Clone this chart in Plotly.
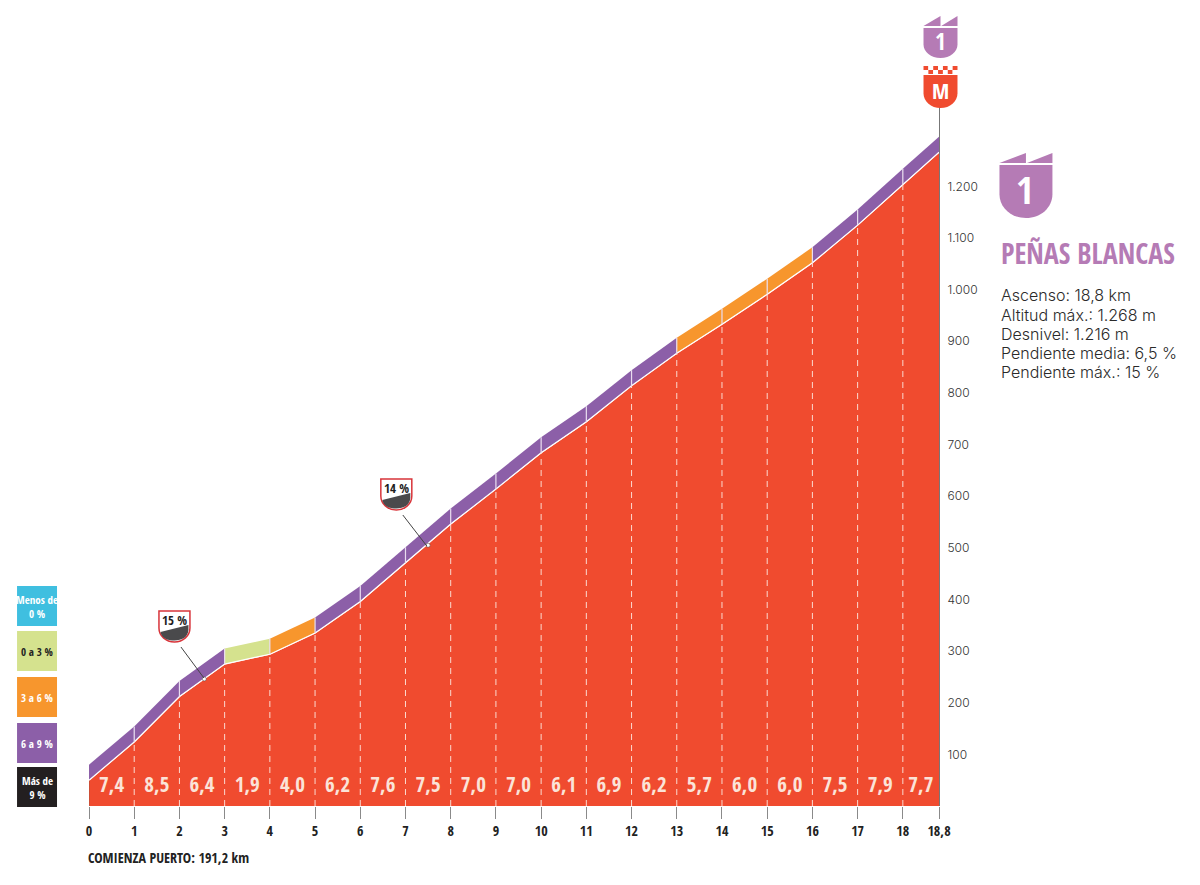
import plotly.graph_objects as go

# perfil del puerto
km = [0, 1, 2, 3, 4, 5, 6, 7, 8, 9, 10, 11, 12, 13, 14, 15, 16, 17, 18, 18.8]
altitud = [50, 124, 212, 275, 294, 335, 396, 471, 546, 614, 684, 744, 814, 877, 933, 991, 1052, 1125, 1204, 1266]
pendiente = [7.4, 8.5, 6.4, 1.9, 4.0, 6.2, 7.6, 7.5, 7.0, 7.0, 6.1, 6.9, 6.2, 5.7, 6.0, 6.0, 7.5, 7.9, 7.7]
banda = 30

km_ticks = [0, 1, 2, 3, 4, 5, 6, 7, 8, 9, 10, 11, 12, 13, 14, 15, 16, 17, 18, 18.8]
km_labels = ["0", "1", "2", "3", "4", "5", "6", "7", "8", "9", "10", "11", "12", "13", "14", "15", "16", "17", "18", "18,8"]
alt_ticks = [100, 200, 300, 400, 500, 600, 700, 800, 900, 1000, 1100, 1200]
alt_labels = ["100", "200", "300", "400", "500", "600", "700", "800", "900", "1.000", "1.100", "1.200"]

rampa_km = [2.55, 7.5]
rampa_alt = [246, 505]
rampa_txt = ["15 %", "14 %"]

leyenda_txt = ["Menos de<br>0 %", "0 a 3 %", "3 a 6 %", "6 a 9 %", "Más de<br>9 %"]
leyenda_col = ["#3FBFE0", "#D5E28E", "#F7962D", "#8C5FA8", "#231F20"]
leyenda_txt_col = ["white", "#222222", "white", "white", "white"]

info = ["Ascenso: 18,8 km", "Altitud máx.: 1.268 m", "Desnivel: 1.216 m", "Pendiente media: 6,5 %", "Pendiente máx.: 15 %"]

ROJO = "#F04B2F"
LILA = "#B57BB5"
ESTRECHA = "Open Sans Condensed"
W, H = 1200, 885
L, R, T, B = 89, 939.5, 107, 806


def px(x):
    return (x - L) / (R - L)


def py(y):
    return (B - y) / (B - T)


def color_tramo(p):
    if p < 0:
        return leyenda_col[0]
    if p < 3:
        return leyenda_col[1]
    if p <= 6:
        return leyenda_col[2]
    if p <= 9:
        return leyenda_col[3]
    return leyenda_col[4]


def ruta(puntos):
    # puntos en pixeles de la pagina, pasados a coordenadas paper
    out = []
    for p in puntos:
        if p[0] == "C":
            out.append(f"C {px(p[1])},{py(p[2])} {px(p[3])},{py(p[4])} {px(p[5])},{py(p[6])}")
        else:
            out.append(f"{p[0]} {px(p[1])},{py(p[2])}")
    return " ".join(out) + " Z"


def forma(puntos, color, linea=None, ancho=0):
    return dict(type="path", xref="paper", yref="paper", path=ruta(puntos), fillcolor=color,
                line=dict(color=linea or color, width=ancho), layer="above")


def escudo(x0, x1, y0, y1, color):
    # cuerpo del escudo: lados rectos y base redonda
    w = x1 - x0
    h = y1 - y0
    ym = y0 + h * 0.55
    return forma([("M", x0, y0), ("L", x1, y0), ("L", x1, ym),
                  ("C", x1, ym + h * 0.25, x0 + w * 0.78, y1, x0 + w / 2, y1),
                  ("C", x0 + w * 0.22, y1, x0, ym + h * 0.25, x0, ym)], color)


def dientes(x0, x1, y_top, y_base, color):
    # los dos dientes de la categoria
    xm = (x0 + x1) / 2
    return [forma([("M", x0, y_base), ("L", xm, y_top), ("L", xm, y_base)], color),
            forma([("M", xm + (x1 - x0) * 0.02, y_base), ("L", x1, y_top), ("L", x1, y_base)], color)]


def texto(x, y, s, size, color, font=ESTRECHA, anchor="center", weight=None):
    f = dict(family=font, size=size, color=color)
    if weight:
        f["weight"] = weight
    return dict(xref="paper", yref="paper", x=px(x), y=py(y), text=s, showarrow=False, xanchor=anchor,
                yanchor="middle", align="center" if anchor == "center" else "left", font=f)


fig = go.Figure()

# zona roja
fig.add_trace(go.Scatter(x=km, y=altitud, mode="lines", fill="tozeroy", fillcolor=ROJO,
                         line=dict(color="white", width=1.3), hoverinfo="skip"))
fig.add_trace(go.Scatter(x=[0, 0], y=[0, altitud[0]], mode="lines", line=dict(color="#B5513A", width=1.2), hoverinfo="skip"))

# banda de color por tramo
for i, p in enumerate(pendiente):
    xs = [km[i], km[i + 1], km[i + 1], km[i], km[i]]
    ys = [altitud[i], altitud[i + 1], altitud[i + 1] + banda, altitud[i] + banda, altitud[i]]
    fig.add_trace(go.Scatter(x=xs, y=ys, mode="lines", fill="toself", fillcolor=color_tramo(p),
                             line=dict(width=0), hoverinfo="skip"))

# linea blanca sobre el rojo y separadores
fig.add_trace(go.Scatter(x=km, y=altitud, mode="lines", line=dict(color="white", width=1.1), hoverinfo="skip"))
sx, sy, dx, dy = [], [], [], []
for k, a in zip(km[1:-1], altitud[1:-1]):
    sx += [k, k, None]
    sy += [a, a + banda, None]
    dx += [k, k, None]
    dy += [0, a, None]
fig.add_trace(go.Scatter(x=sx, y=sy, mode="lines", line=dict(color="#E9DDEF", width=1.2), hoverinfo="skip"))
fig.add_trace(go.Scatter(x=dx, y=dy, mode="lines", line=dict(color="#FBD9CF", width=1, dash="6px,5px"), hoverinfo="skip"))

# pendiente de cada km
fig.add_trace(go.Scatter(
    x=[(km[i] + km[i + 1]) / 2 for i in range(len(pendiente))],
    y=[37] * len(pendiente),
    text=[f"{p:.1f}".replace(".", ",") for p in pendiente],
    mode="text", textfont=dict(family=ESTRECHA, size=21, color="#FBE3D8", weight=700), hoverinfo="skip"))

# punto de las rampas
fig.add_trace(go.Scatter(x=rampa_km, y=rampa_alt, mode="markers",
                         marker=dict(color="white", size=4, line=dict(color="#444444", width=0.5)), hoverinfo="skip"))

shapes = []
annots = []

# leyenda
ley_y = [(586, 626), (631, 671), (677, 717), (723, 763), (767, 807)]
for (y0, y1), col, txt, tc in zip(ley_y, leyenda_col, leyenda_txt, leyenda_txt_col):
    shapes.append(dict(type="rect", xref="paper", yref="paper", x0=px(17), x1=px(57), y0=py(y1), y1=py(y0),
                       fillcolor=col, line=dict(width=0), layer="above"))
    annots.append(texto(37, (y0 + y1) / 2, f"<b>{txt}</b>", 11, tc))

# escudos de cima
shapes += dientes(924, 958, 16, 26, LILA)
shapes.append(escudo(924, 958, 28, 58, LILA))
annots.append(texto(941, 41, "<b>1</b>", 23, "white"))

for c in range(7):
    cx = 924 + c * 34 / 7
    shapes.append(dict(type="rect", xref="paper", yref="paper", x0=px(cx), x1=px(cx + 34 / 7),
                       y0=py(70), y1=py(66), line=dict(width=0), layer="above",
                       fillcolor=ROJO if c % 2 == 0 else "white"))
    shapes.append(dict(type="rect", xref="paper", yref="paper", x0=px(cx), x1=px(cx + 34 / 7),
                       y0=py(74), y1=py(70), line=dict(width=0), layer="above",
                       fillcolor="white" if c % 2 == 0 else ROJO))
shapes.append(escudo(924, 958, 75, 108, ROJO))
annots.append(texto(941, 90, "<b>M</b>", 22, "white"))

# escudo grande
shapes += dientes(1000, 1053, 153, 163, LILA)
shapes.append(escudo(1000, 1053, 165, 218, LILA))
annots.append(texto(1026, 189, "<b>1</b>", 38, "white"))
annots.append(texto(1000, 253, "<b>PEÑAS BLANCAS</b>", 28, LILA, anchor="left"))
for y, s in zip([295, 314.5, 333.5, 353, 372], info):
    annots.append(texto(999.5, y, s, 16, "#2A2A2A", font="Inter", anchor="left", weight=300))

# etiquetas de rampa
for (x0, y0), (lx, ly), s in zip([(159, 611), (381, 479)], [(204, 678), (427, 546)], rampa_txt):
    w, h = 31, 31
    shapes.append(escudo(x0, x0 + w, y0, y0 + h, "white"))
    shapes[-1]["line"] = dict(color="#D8343A", width=1.5)
    shapes.append(forma([("M", x0 + 1.5, y0 + 21), ("L", x0 + w - 1.5, y0 + 14), ("L", x0 + w - 1.5, y0 + 19),
                         ("C", x0 + w - 2, y0 + 26, x0 + w * 0.74, y0 + h - 1.5, x0 + w / 2, y0 + h - 1.5),
                         ("C", x0 + w * 0.26, y0 + h - 1.5, x0 + 2.5, y0 + 27, x0 + 1.5, y0 + 21)], "#4A4A4C"))
    shapes.append(dict(type="line", xref="paper", yref="paper", x0=px(x0 + 22), y0=py(y0 + 36), x1=px(lx), y1=py(ly),
                       line=dict(color="#444444", width=1), layer="above"))
    annots.append(texto(x0 + w / 2, y0 + 9, f"<b>{s}</b>", 13, "#1E1E1E"))

annots.append(texto(86, 857, "<b>COMIENZA PUERTO: 191,2 km</b>", 14, "#222222", anchor="left"))

fig.update_layout(
    width=W, height=H,
    margin=dict(l=L, r=W - R, t=T, b=H - B, pad=0),
    paper_bgcolor="white", plot_bgcolor="white",
    showlegend=False,
    shapes=shapes, annotations=annots,
    xaxis=dict(range=[0, 18.8], tickvals=km_ticks, ticktext=km_labels, showgrid=False, zeroline=False,
               ticks="outside", ticklen=12, tickcolor="#8A8A8A", tickwidth=1.2, showline=False,
               tickangle=0, tickfont=dict(family=ESTRECHA, size=14, color="#222222", weight=700), fixedrange=True),
    yaxis=dict(range=[0, (B - T) / 0.5164], side="right", tickvals=alt_ticks, ticktext=alt_labels, showgrid=False,
               zeroline=False, showline=True, linecolor="#777777", linewidth=1.2, ticks="",
               ticklabelstandoff=5, tickfont=dict(family="Inter", size=12, color="#333333", weight=300), fixedrange=True),
)

fig.write_html("out.html", config=dict(displayModeBar=False), post_script="document.body.style.margin='0';")
